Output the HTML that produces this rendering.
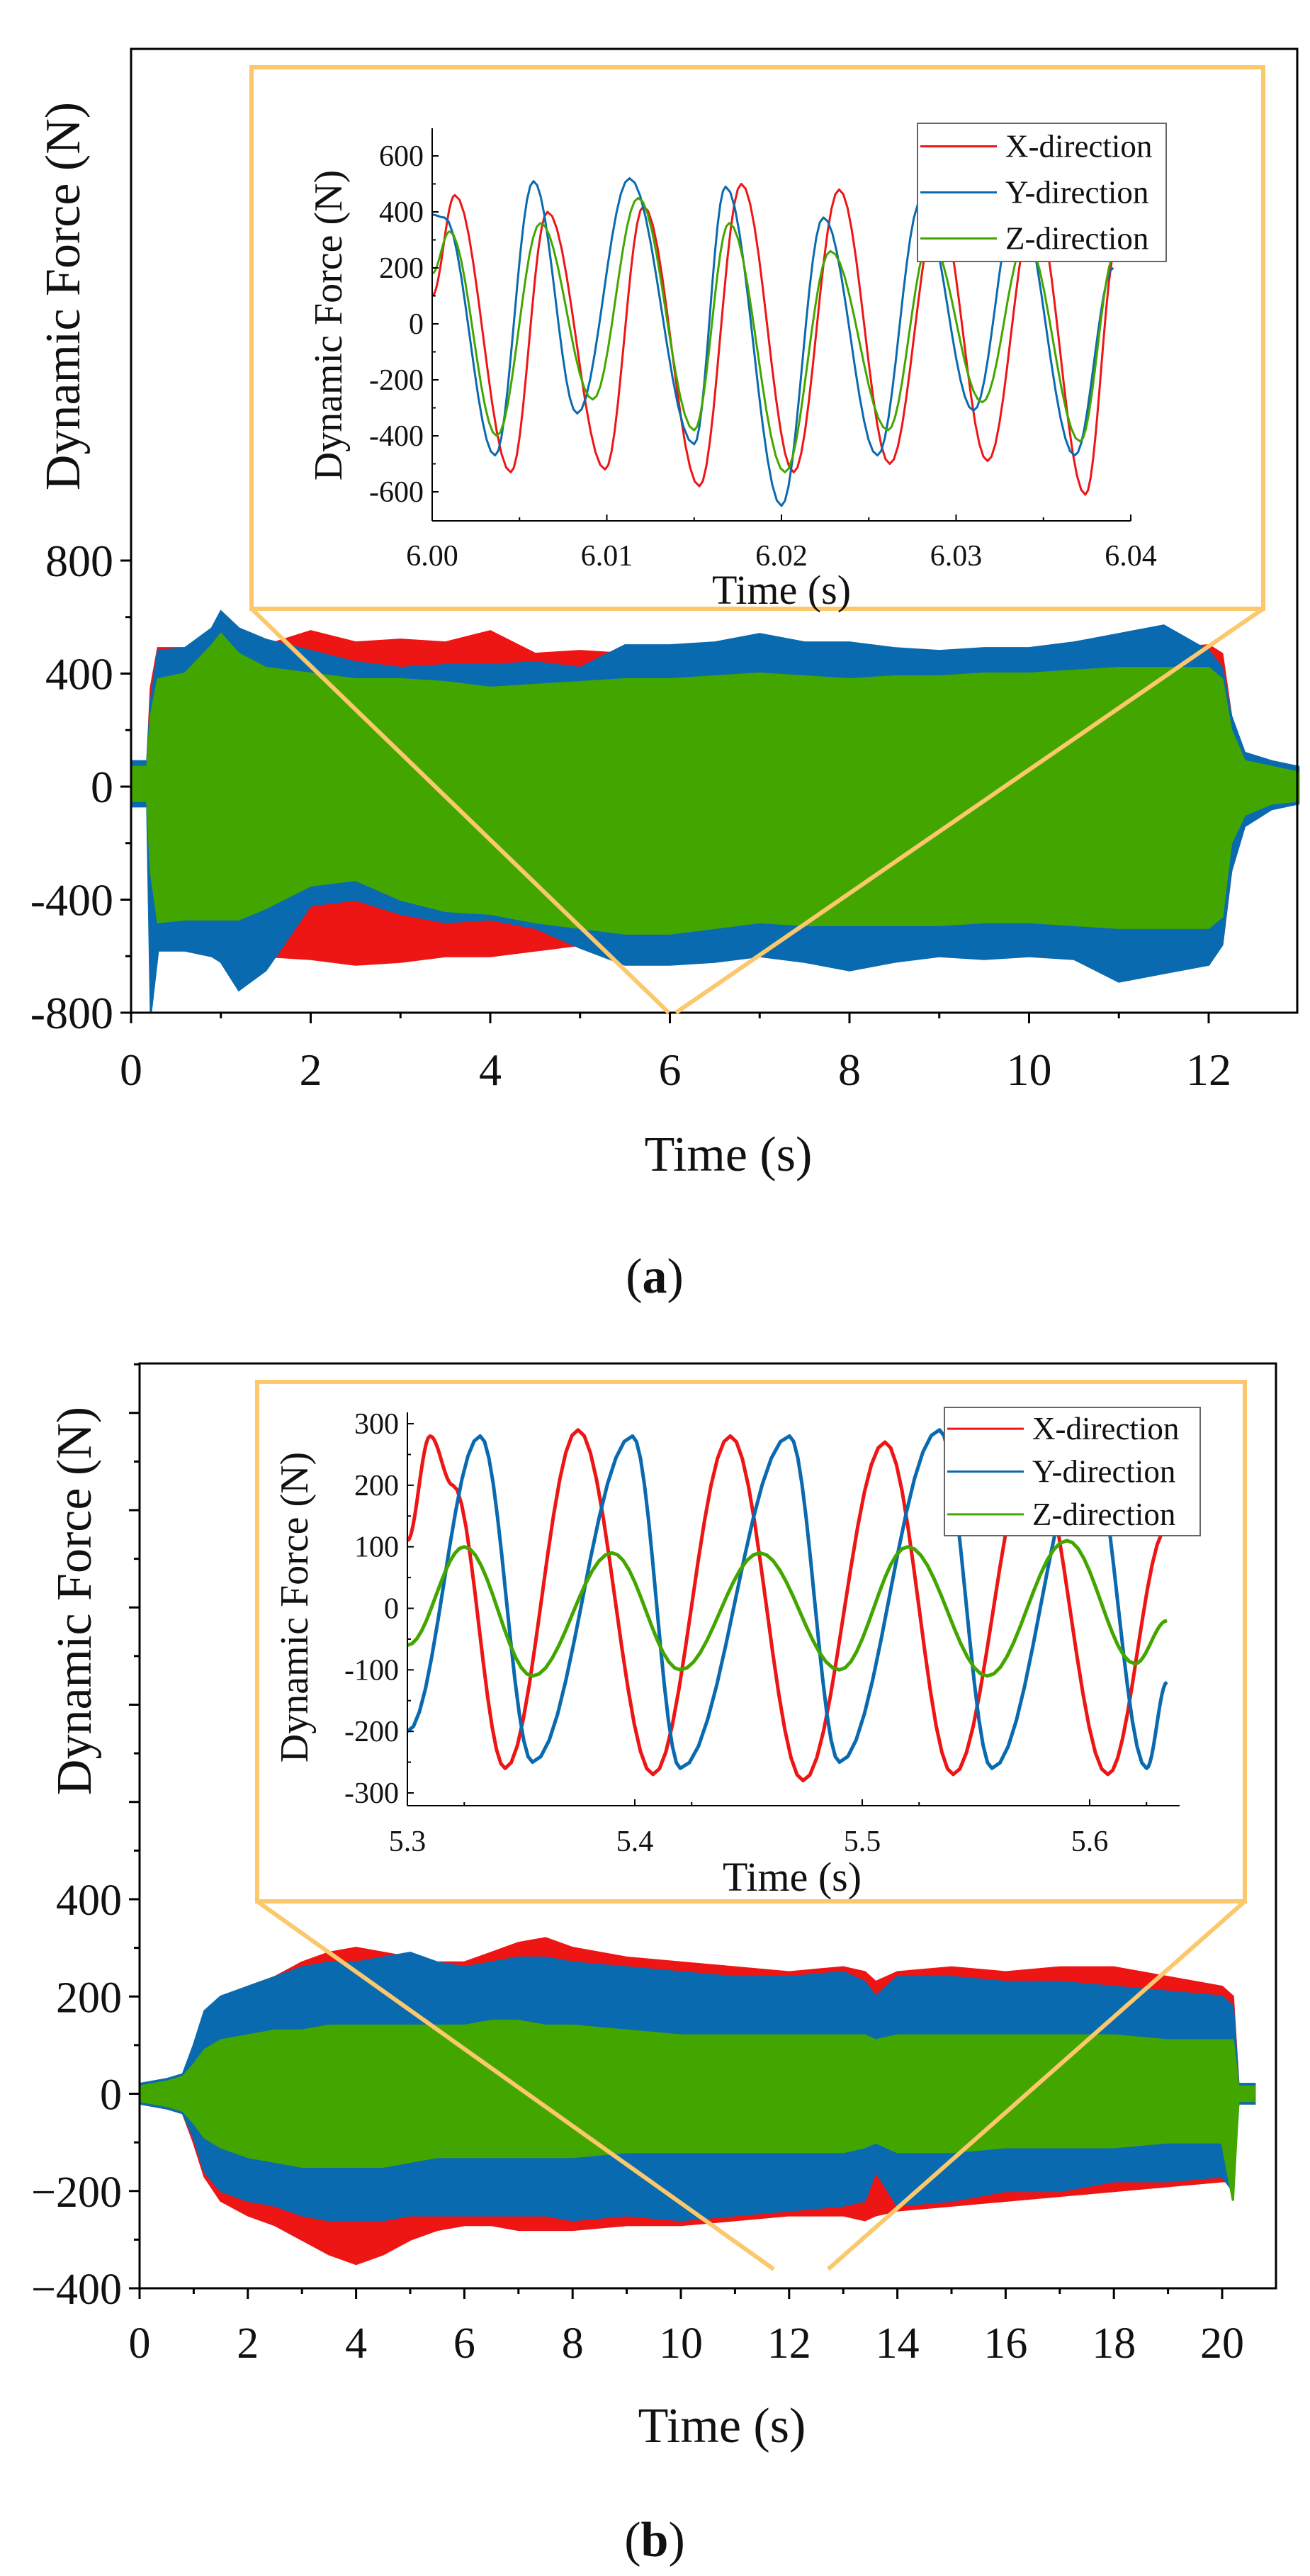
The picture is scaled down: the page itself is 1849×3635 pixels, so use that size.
<!DOCTYPE html>
<html><head><meta charset="utf-8"><style>
html,body{margin:0;padding:0;background:#fff}
svg{display:block;font-family:"Liberation Serif",serif}
svg text, svg tspan{font-family:"Liberation Serif",serif !important;fill:#111}
</style></head><body>
<svg id="fig" xmlns="http://www.w3.org/2000/svg" width="1849" height="3635" viewBox="0 0 1849 3635" font-family="Liberation Serif, serif">
<g id="panelA"></g>
<g id="panelB"></g>
</svg>
<script>
// ===== Panel A main data (envelopes) =====
const tA = [0,0.18,0.22,0.3,0.6,0.9,1.0,1.2,1.5,2,2.5,3,3.5,4,4.5,5,5.5,6,6.5,7,7.5,8,8.5,9,9.5,10,10.5,11,11.5,12,12.15,12.25,12.4,12.7,13];
const redUpA = [80,80,350,490,490,480,480,490,500,550,510,520,510,550,470,480,470,470,460,470,460,470,470,470,470,470,470,480,490,500,470,250,110,80,60];
const redLoA = [-60,-60,-400,-560,-560,-570,-580,-600,-600,-610,-630,-620,-600,-600,-580,-560,-560,-560,-560,-560,-560,-570,-560,-560,-560,-560,-560,-580,-580,-600,-560,-300,-120,-70,-50];
const blueUpA = [90,90,300,480,490,560,620,560,520,480,440,420,430,430,440,420,500,500,510,540,510,510,490,480,490,490,510,540,570,480,420,250,120,90,70];
const blueLoA = [-70,-70,-800,-580,-580,-600,-620,-720,-650,-420,-400,-450,-480,-470,-500,-570,-630,-630,-620,-600,-620,-650,-620,-600,-610,-600,-610,-690,-660,-630,-560,-300,-140,-80,-60];
const greenUpA = [70,70,250,380,400,500,540,470,420,400,380,380,370,350,360,370,380,380,390,400,390,380,390,390,400,400,410,420,420,420,380,200,90,70,50];
const greenLoA = [-50,-50,-300,-480,-470,-470,-470,-470,-430,-350,-330,-400,-440,-450,-480,-500,-520,-520,-500,-480,-490,-490,-490,-490,-480,-480,-490,-500,-500,-500,-460,-200,-100,-60,-50];
const xTicksA = [0,2,4,6,8,10,12];
const yTicksA = [-800,-400,0,400,800];
// Panel A inset (extrema)
const insetRedA = [[6.0000,100],[6.0013,460],[6.0045,-530],[6.0066,400],[6.0099,-520],[6.0121,420],[6.0153,-580],[6.0177,500],[6.0207,-530],[6.0233,480],[6.0262,-500],[6.0290,420],[6.0318,-490],[6.0345,420],[6.0374,-610],[6.0392,280]];
const insetBlueA = [[6.0000,390],[6.0007,380],[6.0036,-470],[6.0058,510],[6.0083,-320],[6.0113,520],[6.0150,-430],[6.0168,490],[6.0200,-650],[6.0224,380],[6.0255,-470],[6.0280,440],[6.0310,-310],[6.0335,450],[6.0368,-470],[6.0390,200]];
const insetGreenA = [[6.0000,180],[6.0010,330],[6.0037,-400],[6.0062,360],[6.0092,-270],[6.0118,450],[6.0150,-380],[6.0170,360],[6.0202,-530],[6.0228,260],[6.0261,-380],[6.0285,300],[6.0315,-280],[6.0340,300],[6.0371,-420],[6.0391,250]];
const insetXTicksA = [6.00,6.01,6.02,6.03,6.04];
const insetYTicksA = [-600,-400,-200,0,200,400,600];

// ===== Panel B main data =====
const tB = [0,0.5,0.8,1,1.2,1.5,2,2.5,3,3.5,4,4.5,5,5.5,6,6.5,7,7.5,8,9,10,11,12,13,13.4,13.6,14,15,16,17,18,19,20,20.2,20.3,20.6];
const redUpB = [20,30,40,90,150,190,220,240,270,290,300,290,280,270,270,290,310,320,300,280,270,260,250,260,250,230,250,260,250,260,260,240,220,200,20,20];
const redLoB = [-20,-30,-40,-100,-170,-220,-250,-270,-300,-330,-350,-330,-300,-280,-270,-270,-280,-280,-280,-270,-270,-260,-250,-250,-260,-250,-240,-230,-220,-210,-200,-190,-180,-180,-20,-20];
const blueUpB = [20,30,40,100,170,200,220,240,260,270,270,280,290,270,260,270,280,280,270,260,250,240,240,250,230,200,240,240,230,230,220,210,200,180,20,20];
const blueLoB = [-20,-30,-40,-90,-160,-200,-220,-230,-250,-260,-260,-260,-250,-250,-250,-250,-250,-250,-260,-250,-260,-250,-240,-230,-220,-160,-230,-220,-200,-200,-180,-180,-170,-200,-20,-20];
const greenUpB = [15,25,35,60,90,110,120,130,130,140,140,140,140,140,140,150,150,140,140,130,120,120,120,120,120,110,120,120,120,120,120,110,110,110,15,15];
const greenLoB = [-15,-25,-35,-60,-90,-110,-130,-140,-150,-150,-150,-150,-140,-130,-130,-130,-130,-130,-130,-120,-120,-120,-120,-120,-110,-100,-120,-120,-110,-110,-110,-100,-100,-220,-15,-15];
const xTicksB = [0,2,4,6,8,10,12,14,16,18,20];
const yTicksB = [-400,-200,0,200,400];
// Panel B inset
const insetRedB = [[5.30,110],[5.31,280],[5.32,200],[5.343,-260],[5.375,290],[5.408,-270],[5.442,280],[5.474,-280],[5.51,270],[5.54,-270],[5.575,260],[5.608,-270],[5.634,130]];
const insetBlueB = [[5.30,-200],[5.332,280],[5.355,-250],[5.399,280],[5.42,-260],[5.468,280],[5.49,-250],[5.534,290],[5.557,-260],[5.60,270],[5.625,-260],[5.634,-120]];
const insetGreenB = [[5.30,-60],[5.325,100],[5.355,-110],[5.39,90],[5.42,-100],[5.455,90],[5.49,-100],[5.52,100],[5.555,-110],[5.59,110],[5.62,-90],[5.634,-20]];
const insetXTicksB = [5.3,5.4,5.5,5.6];
const insetYTicksB = [-300,-200,-100,0,100,200,300];

const RED='#EE1515', BLUE='#0A6AAF', GREEN='#43A600', ORANGE='#FBC86C';
const NS='http://www.w3.org/2000/svg';
function mk(parent, tag, attrs, txt){
  const e=document.createElementNS(NS,tag);
  for(const k in attrs) e.setAttribute(k,attrs[k]);
  if(tag==='text'){ e.setAttribute('font-family','Liberation Serif, serif'); e.style.fontFamily='"Liberation Serif", serif'; }
  if(txt!==undefined) e.textContent=txt;
  parent.appendChild(e); return e;
}
function lin(d0,d1,r0,r1){return v=>r0+(v-d0)*(r1-r0)/(d1-d0);}
function fmt(v){return String(v);}

function envelope(g,t,up,lo,X,Y,color,name){
  let d='M'+X(t[0])+','+Y(up[0]);
  for(let i=1;i<t.length;i++) d+=' L'+X(t[i])+','+Y(up[i]);
  for(let i=t.length-1;i>=0;i--) d+=' L'+X(t[i])+','+Y(lo[i]);
  const p=mk(g,'path',{d:d+'Z',fill:color,stroke:color,'stroke-width':3});
  
  
}
function wave(g,pts,X,Y,color,w,name){
  let d='M'+X(pts[0][0])+','+Y(pts[0][1]);
  for(let i=1;i<pts.length;i++){
    const [t0,v0]=pts[i-1],[t1,v1]=pts[i];
    for(let k=1;k<=12;k++){
      const f=k/12, c=(1-Math.cos(Math.PI*f))/2;
      d+=' L'+X(t0+(t1-t0)*f).toFixed(1)+','+Y(v0+(v1-v0)*c).toFixed(1);
    }
  }
  const p=mk(g,'path',{d:d,fill:'none',stroke:color,'stroke-width':w,'stroke-linejoin':'round'});
  
  
}

function panel(cfg){
  const g=document.getElementById(cfg.id);
  const X=lin(cfg.xd[0],cfg.xd[1],cfg.xr[0],cfg.xr[1]);
  const Y=lin(cfg.yd[0],cfg.yd[1],cfg.yr[0],cfg.yr[1]);
  const dg=mk(g,'g',{});
   
  envelope(dg,cfg.t,cfg.r[0],cfg.r[1],X,Y,RED,'x-direction-signal');
  envelope(dg,cfg.t,cfg.b[0],cfg.b[1],X,Y,BLUE,'y-direction-signal');
  envelope(dg,cfg.t,cfg.gr[0],cfg.gr[1],X,Y,GREEN,'z-direction-signal');
  const fr=mk(g,'rect',{x:cfg.L,y:cfg.T,width:cfg.R-cfg.L,height:cfg.B-cfg.T,fill:'none',stroke:'#000','stroke-width':3});
   
  for(const v of cfg.yticks){
    const y=Y(v);
    mk(g,'line',{x1:cfg.L-15,x2:cfg.L,y1:y,y2:y,stroke:'#000','stroke-width':3});
    const tx=mk(g,'text',{x:cfg.L-cfg.ylabOff,y:y+22,'font-size':cfg.fs,'text-anchor':'end'},cfg.minus?String(v).replace('-','\u2212'):fmt(v));
     
  }
  for(const v of cfg.yminor){
    const y=Y(v);
    mk(g,'line',{x1:cfg.L-8,x2:cfg.L,y1:y,y2:y,stroke:'#000','stroke-width':3});
  }
  for(const v of cfg.yextra){
    const y=Y(v);
    mk(g,'line',{x1:cfg.L-15,x2:cfg.L,y1:y,y2:y,stroke:'#000','stroke-width':3});
  }
  for(let i=0;i<cfg.xticks.length;i++){
    const v=cfg.xticks[i], x=X(v);
    mk(g,'line',{x1:x,x2:x,y1:cfg.B,y2:cfg.B+15,stroke:'#000','stroke-width':3});
    const m=X(v+cfg.xstep/2);
    if(m<=cfg.R) mk(g,'line',{x1:m,x2:m,y1:cfg.B,y2:cfg.B+8,stroke:'#000','stroke-width':3});
    const tx=mk(g,'text',{x:x,y:cfg.xlabY,'font-size':cfg.fs,'text-anchor':'middle'},String(v));
     
  }
  const xt=mk(g,'text',{x:(cfg.L+cfg.R)/2+20,y:cfg.xtitleY,'font-size':70,'text-anchor':'middle'},'Time (s)');
   
  const yt=mk(g,'text',{x:0,y:0,'font-size':70,'text-anchor':'middle',transform:`translate(${cfg.ytitleX},${cfg.ytitleY}) rotate(-90)`},'Dynamic Force (N)');
   
  const cap=mk(g,'text',{x:924,y:cfg.capY,'font-size':70,'text-anchor':'middle'});
   
  mk(cap,'tspan',{},'(');
  mk(cap,'tspan',{'font-weight':'bold'},cfg.letter);
  mk(cap,'tspan',{},')');

  const ins=cfg.inset;
  for(const c of ins.conn){
    const l=mk(g,'line',{x1:c[0],y1:c[1],x2:c[2],y2:c[3],stroke:ORANGE,'stroke-width':6});
     
  }
  const ib=mk(g,'rect',{x:ins.box[0],y:ins.box[1],width:ins.box[2]-ins.box[0],height:ins.box[3]-ins.box[1],fill:'#fff',stroke:ORANGE,'stroke-width':6});
   
  const IX=lin(ins.xd[0],ins.xd[1],ins.xr[0],ins.xr[1]);
  const IY=lin(ins.yd[0],ins.yd[1],ins.yr[0],ins.yr[1]);
  const ig=mk(g,'g',{});
   
  wave(ig,ins.red,IX,IY,RED,ins.lw,'inset-x-direction');
  wave(ig,ins.blue,IX,IY,BLUE,ins.lw,'inset-y-direction');
  wave(ig,ins.green,IX,IY,GREEN,ins.lw,'inset-z-direction');
  mk(g,'line',{x1:ins.L,x2:ins.L,y1:ins.T,y2:ins.B,stroke:'#000','stroke-width':2});
  mk(g,'line',{x1:ins.L,x2:ins.R,y1:ins.B,y2:ins.B,stroke:'#000','stroke-width':2});
  for(const v of ins.yticks){
    const y=IY(v);
    mk(g,'line',{x1:ins.L,x2:ins.L+9,y1:y,y2:y,stroke:'#000','stroke-width':2});
    const ym=IY(v+ins.ystep/2);
    if(ym>=ins.T) mk(g,'line',{x1:ins.L,x2:ins.L+5,y1:ym,y2:ym,stroke:'#000','stroke-width':2});
    const tx=mk(g,'text',{x:ins.L-12,y:y+14,'font-size':42,'text-anchor':'end'},String(v));
     
  }
  for(const v of ins.xticks){
    const x=IX(v);
    mk(g,'line',{x1:x,x2:x,y1:ins.B,y2:ins.B-9,stroke:'#000','stroke-width':2});
    const xm=IX(v+ins.xstep/2);
    if(xm<=ins.R) mk(g,'line',{x1:xm,x2:xm,y1:ins.B,y2:ins.B-5,stroke:'#000','stroke-width':2});
    const tx=mk(g,'text',{x:x,y:ins.xlabY,'font-size':42,'text-anchor':'middle'},v.toFixed(ins.dec));
     
  }
  const ixt=mk(g,'text',{x:ins.xtitleX,y:ins.xtitleY,'font-size':58,'text-anchor':'middle'},'Time (s)');
   
  const iyt=mk(g,'text',{x:0,y:0,'font-size':56,'text-anchor':'middle',transform:`translate(${ins.ytitleX},${ins.ytitleY}) rotate(-90)`},'Dynamic Force (N)');
   
  const lg=mk(g,'g',{});
   
  const [lx0,ly0,lx1,ly1]=ins.leg;
  mk(lg,'rect',{x:lx0,y:ly0,width:lx1-lx0,height:ly1-ly0,fill:'#fff',stroke:'#666','stroke-width':2});
  const names=['X-direction','Y-direction','Z-direction'], cols=[RED,BLUE,GREEN];
  const rh=(ly1-ly0)/3;
  for(let i=0;i<3;i++){
    const cy=ly0+rh*(i+0.5);
    const e=mk(lg,'g',{});
     
    mk(e,'line',{x1:lx0+4,x2:lx0+112,y1:cy,y2:cy,stroke:cols[i],'stroke-width':3});
    mk(e,'text',{x:lx0+124,y:cy+15,'font-size':45},names[i]);
  }
}

panel({id:'panelA',letter:'a',L:185,R:1831,T:69,B:1429,xd:[0,12],xr:[185,1706],yd:[-800,800],yr:[1429,791],
  t:tA,r:[redUpA,redLoA],b:[blueUpA,blueLoA],gr:[greenUpA,greenLoA],
  yticks:yTicksA,yminor:[-600,-200,200,600],yextra:[],xticks:xTicksA,xstep:2,minus:false,
  fs:64,ylabOff:25,xlabY:1531,xtitleY:1652,ytitleX:112,ytitleY:418,capY:1824,
  inset:{box:[355,95,1783,859],conn:[[355,859,944,1429],[1783,859,954,1429]],
    L:610,R:1596,T:181,B:735,xd:[6.0,6.04],xr:[610,1596],yd:[-600,600],yr:[694,220],
    red:insetRedA,blue:insetBlueA,green:insetGreenA,lw:3,
    yticks:insetYTicksA,ystep:200,xticks:insetXTicksA,xstep:0.01,dec:2,xlabY:798,
    xtitleX:1103,xtitleY:852,ytitleX:482,ytitleY:459,leg:[1295,174,1646,369]}
});
panel({id:'panelB',letter:'b',L:197,R:1801,T:1924,B:3229,xd:[0,20],xr:[197,1725],yd:[-400,400],yr:[3229,2680],
  t:tB,r:[redUpB,redLoB],b:[blueUpB,blueLoB],gr:[greenUpB,greenLoB],
  yticks:yTicksB,yminor:[-300,-100,100,300,500,700,900,1100,1300,1500],yextra:[600,800,1000,1200,1400],xticks:xTicksB,xstep:2,minus:true,
  fs:62,ylabOff:25,xlabY:3327,xtitleY:3446,ytitleX:128,ytitleY:2259,capY:3607,
  inset:{box:[363,1950,1757,2683],conn:[[363,2683,1092,3202],[1757,2683,1169,3202]],
    L:575,R:1665,T:1993,B:2548,xd:[5.3,5.6],xr:[575,1538],yd:[-300,300],yr:[2530,2009],
    red:insetRedB,blue:insetBlueB,green:insetGreenB,lw:5,
    yticks:insetYTicksB,ystep:100,xticks:insetXTicksB,xstep:0.05,dec:1,xlabY:2612,
    xtitleX:1118,xtitleY:2668,ytitleX:434,ytitleY:2268,leg:[1333,1986,1694,2167]}
});
</script>
</body></html>
